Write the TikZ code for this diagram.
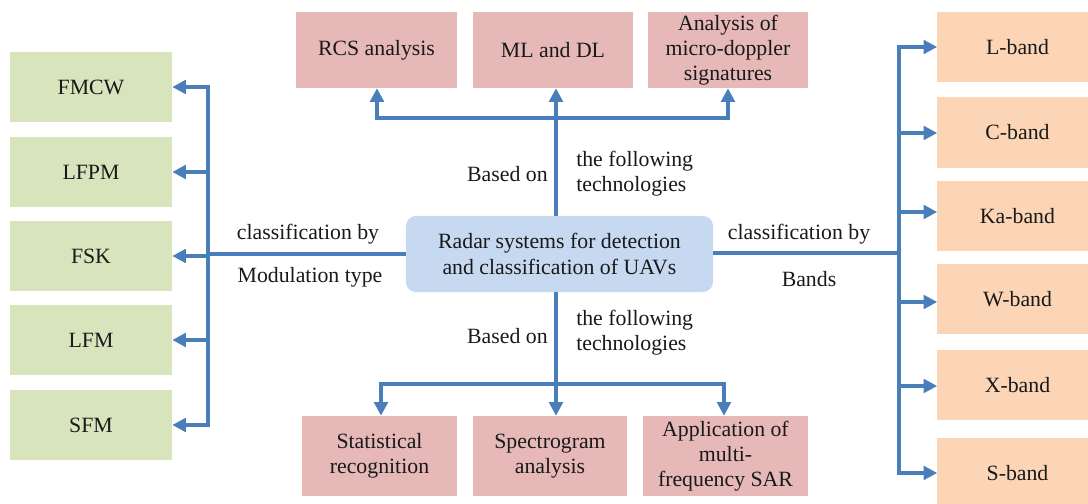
\documentclass[tikz,border=0pt]{standalone}
\usepackage{fontspec}
\setmainfont{Liberation Serif}
\usetikzlibrary{arrows.meta}
\definecolor{gbox}{HTML}{D8E4BC}
\definecolor{pbox}{HTML}{E6B9B8}
\definecolor{obox}{HTML}{FBD5B5}
\definecolor{bbox}{HTML}{C6D9F1}
\definecolor{lin}{HTML}{4A7EBB}
\tikzset{
  base/.style={inner sep=1pt, align=center, font=\fontsize{15.5}{17.8}\selectfont, text=black!90},
  greenbox/.style={base, fill=gbox, minimum width=4.05cm, minimum height=1.75cm},
  topbox/.style={base, fill=pbox, minimum width=4.0cm, minimum height=1.9cm},
  botbox/.style={base, fill=pbox, minimum height=2.0cm},
  bandbox/.style={base, fill=obox, minimum width=4.0cm, minimum height=1.75cm},
  mainbox/.style={base, fill=bbox, rounded corners=0.25cm, minimum width=7.675cm, minimum height=1.9cm},
  lbl/.style={base, inner sep=0pt},
  conn/.style={draw=lin, line width=2.4pt},
  bus/.style={conn, line cap=rect},
  arr/.style={conn, -{Triangle[length=0.34cm, width=0.34cm]}}
}
\begin{document}
\begin{tikzpicture}[x=0.025cm, y=-0.025cm]
\useasboundingbox (0,0) rectangle (1088,504);
% left boxes
\node[greenbox] (fmcw) at (91,87) {FMCW};
\node[greenbox] (lfpm) at (91,172) {LFPM};
\node[greenbox] (fsk) at (91,256) {FSK};
\node[greenbox] (lfm) at (91,340) {LFM};
\node[greenbox] (sfm) at (91,425) {SFM};
% top boxes
\node[topbox] (rcs) at (376.5,50) {RCS analysis};
\node[topbox] (ml) at (553,50) {ML and DL};
\node[topbox] (mds) at (728,50) {Analysis of\\micro-doppler\\signatures};
% bottom boxes
\node[botbox, minimum width=3.875cm] (stat) at (379.5,456) {Statistical\\recognition};
\node[botbox, minimum width=3.85cm] (spec) at (550,456) {Spectrogram\\analysis};
\node[botbox, minimum width=4.125cm] (sar) at (725.5,456) {Application of\\multi-\\frequency SAR};
% right boxes
\node[bandbox] (lb) at (1017.5,47) {L-band};
\node[bandbox] (cb) at (1017.5,132.5) {C-band};
\node[bandbox] (kab) at (1017.5,216) {Ka-band};
\node[bandbox] (wb) at (1017.5,299) {W-band};
\node[bandbox] (xb) at (1017.5,385) {X-band};
\node[bandbox] (sb) at (1017.5,473) {S-band};
% center
\node[mainbox] (main) at (559.5,254) {Radar systems for detection\\and classification of UAVs};
% labels
\node[lbl, anchor=east] (bo1) at (548,174) {Based on};
\node[lbl, anchor=west, align=left] (tf1) at (576,174) {the following\\technologies};
\node[lbl, anchor=east] (bo2) at (548,336) {Based on};
\node[lbl, anchor=west, align=left] (tf2) at (576,333) {the following\\technologies};
\node[lbl] (cl1) at (308,234) {classification by};
\node[lbl] (mt) at (310,277) {Modulation type};
\node[lbl] (cl2) at (799,234) {classification by};
\node[lbl] (bd) at (809,279) {Bands};
% coordinates
\coordinate (lj) at (208,254);
\coordinate (l1) at (208,87);
\coordinate (l2) at (208,172);
\coordinate (l3) at (208,256);
\coordinate (l4) at (208,340);
\coordinate (l5) at (208,425);
\coordinate (tj) at (556,118);
\coordinate (t1) at (377,118);
\coordinate (t3) at (728,118);
\coordinate (bj) at (556,384);
\coordinate (b1) at (381,384);
\coordinate (b3) at (724,384);
\coordinate (rj) at (899,253);
\coordinate (r1) at (899,47);
\coordinate (r2) at (899,133);
\coordinate (r3) at (899,212);
\coordinate (r4) at (899,302);
\coordinate (r5) at (899,386);
\coordinate (r6) at (899,473);
% left
\draw[conn] (main.west |- lj) -- (lj);
\draw[bus] (l1) -- (l5);
\draw[arr] (l1) -- (l1 -| fmcw.east);
\draw[arr] (l2) -- (l2 -| lfpm.east);
\draw[arr] (l3) -- (l3 -| fsk.east);
\draw[arr] (l4) -- (l4 -| lfm.east);
\draw[arr] (l5) -- (l5 -| sfm.east);
% top
\draw[conn] (tj |- main.north) -- (tj);
\draw[bus] (t1) -- (t3);
\draw[arr] (t1) -- (t1 |- rcs.south);
\draw[arr] (tj) -- (tj |- ml.south);
\draw[arr] (t3) -- (t3 |- mds.south);
% bottom
\draw[conn] (bj |- main.south) -- (bj);
\draw[bus] (b1) -- (b3);
\draw[arr] (b1) -- (b1 |- stat.north);
\draw[arr] (bj) -- (bj |- spec.north);
\draw[arr] (b3) -- (b3 |- sar.north);
% right
\draw[conn] (main.east |- rj) -- (rj);
\draw[bus] (r1) -- (r6);
\draw[arr] (r1) -- (r1 -| lb.west);
\draw[arr] (r2) -- (r2 -| cb.west);
\draw[arr] (r3) -- (r3 -| kab.west);
\draw[arr] (r4) -- (r4 -| wb.west);
\draw[arr] (r5) -- (r5 -| xb.west);
\draw[arr] (r6) -- (r6 -| sb.west);
\end{tikzpicture}
\end{document}
